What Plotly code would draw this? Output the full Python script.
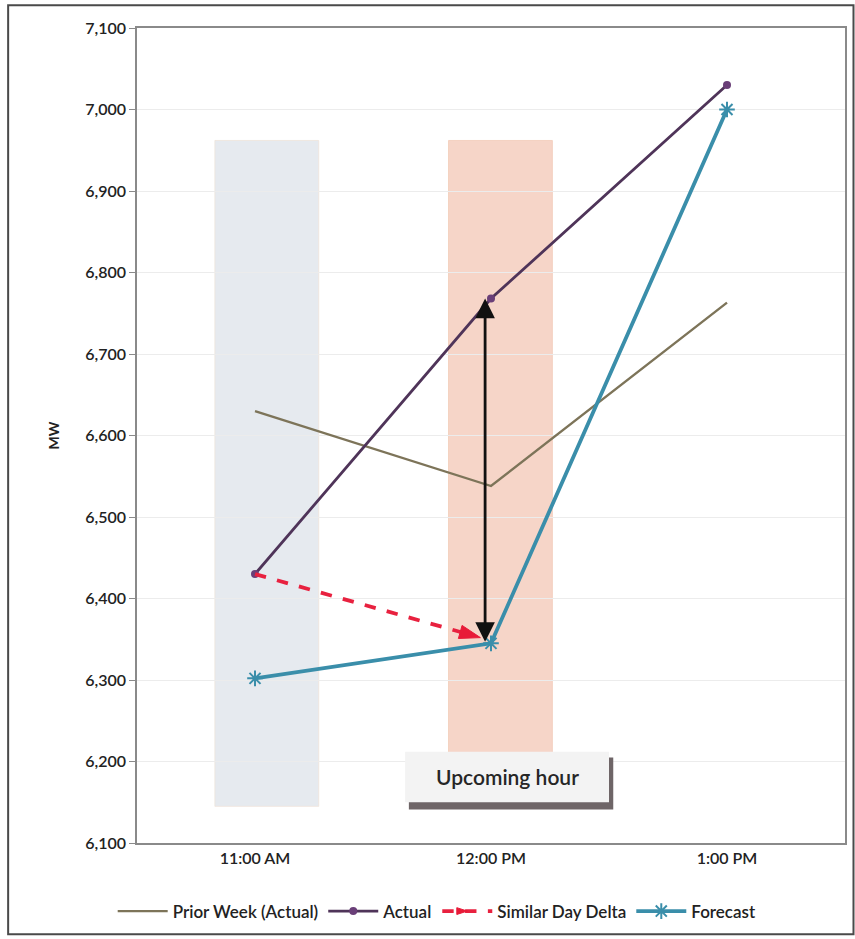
import plotly.graph_objects as go

# Hourly load, MW
hours = ["11:00 AM", "12:00 PM", "1:00 PM"]
prior_week = [6630, 6538, 6763]
actual = [6430, 6768, 7030]
forecast = [6302, 6345, 7000]
# similar-day delta: from the 11 AM actual toward the noon forecast
delta_y = [6430, 6352]

y_ticks = list(range(6100, 7101, 100))

FONT = "Lato"
TXT = "#222222"

fig = go.Figure()

fig.add_trace(go.Scatter(
    x=[0, 1, 2], y=prior_week, name="Prior Week (Actual)", mode="lines",
    line=dict(color="#7d7459", width=2.4),
))
fig.add_trace(go.Scatter(
    x=[0, 1, 2], y=actual, name="Actual", mode="lines+markers",
    line=dict(color="#4f3459", width=2.8),
    marker=dict(symbol="circle", size=8, color="#6a3f78"),
))
fig.add_trace(go.Scatter(
    x=[0, 0.955], y=delta_y, name="Similar Day Delta", mode="lines+markers",
    line=dict(color="#e8213f", width=3.8, dash="dash"),
    marker=dict(symbol="arrow", angleref="previous", size=[0, 22], opacity=1,
                color="#e81a38", line=dict(width=1, color="#e81a38")),
))
fig.add_trace(go.Scatter(
    x=[0, 1, 2], y=forecast, name="Forecast", mode="lines+markers",
    line=dict(color="#3a8eaa", width=3.8),
    marker=dict(symbol="asterisk-open", size=13,
                line=dict(color="#5f9ea0", width=2)),
))

# vertical double arrow between forecast and actual at noon
fig.add_annotation(
    x=0.975, y=actual[1], ax=0.975, ay=forecast[1],
    xref="x", yref="y", axref="x", ayref="y",
    text="", showarrow=True, arrowhead=2, startarrowhead=2,
    arrowside="end+start", arrowsize=1.4, startarrowsize=1.4,
    arrowwidth=2.8, arrowcolor="#111111",
)

shapes = [
    # highlighted hours
    dict(type="rect", xref="x", yref="y", x0=-0.17, x1=0.27, y0=6145, y1=6962,
         fillcolor="#e6eaef", line=dict(width=0.8, color="#efe3da"), layer="below"),
    dict(type="rect", xref="x", yref="y", x0=0.82, x1=1.26, y0=6145, y1=6962,
         fillcolor="#f6d5c8", line=dict(width=0.8, color="#f2cbb8"), layer="below"),
    # label box with drop shadow
    dict(type="rect", xref="x", yref="y", x0=0.652, x1=1.518, y0=6141, y1=6205,
         fillcolor="#6e6567", line=dict(width=0), layer="above"),
    dict(type="rect", xref="x", yref="y", x0=0.636, x1=1.500, y0=6150, y1=6212,
         fillcolor="#f3f3f3", line=dict(width=0), layer="above"),
    # outer frame
    dict(type="rect", xref="paper", yref="paper", x0=-0.182, x1=1.012, y0=-0.112, y1=1.028,
         fillcolor="rgba(0,0,0,0)", line=dict(width=2, color="#4a4a4a"), layer="above"),
]
fig.update_layout(shapes=shapes)

fig.add_annotation(
    x=1.068, y=6181, xref="x", yref="y", text="Upcoming hour", showarrow=False,
    font=dict(family=FONT, size=21, color="#262626", weight=600),
)

fig.update_xaxes(
    type="linear", range=[-0.5, 2.5], tickmode="array",
    tickvals=[0, 1, 2], ticktext=hours,
    showgrid=False, zeroline=False, showline=True, mirror=True,
    linecolor="#8a8a8a", linewidth=1.5, ticks="",
    tickfont=dict(family=FONT, size=16, color=TXT, weight=600),
)
fig.update_yaxes(
    range=[6100, 7100], tickvals=y_ticks, tickformat=",d",
    showgrid=True, gridcolor="#ececec", gridwidth=1, zeroline=False,
    showline=True, mirror=True, linecolor="#8a8a8a", linewidth=1.5,
    ticks="outside", ticklen=6, tickcolor="#8a8a8a",
    tickfont=dict(family=FONT, size=16, color=TXT, weight=600),
    title=dict(text="MW", font=dict(family=FONT, size=14, color=TXT, weight="bold"), standoff=22),
)

fig.update_layout(
    width=855, height=939,
    margin=dict(l=137, r=10, t=28, b=96, autoexpand=False),
    paper_bgcolor="white", plot_bgcolor="white",
    font=dict(family=FONT, color=TXT),
    legend=dict(
        orientation="h", x=0.424, xanchor="center", y=-0.062, yanchor="top",
        font=dict(family=FONT, size=17, color=TXT, weight=600),
        itemwidth=50, tracegroupgap=0,
    ),
)

fig.write_html("out.html")
